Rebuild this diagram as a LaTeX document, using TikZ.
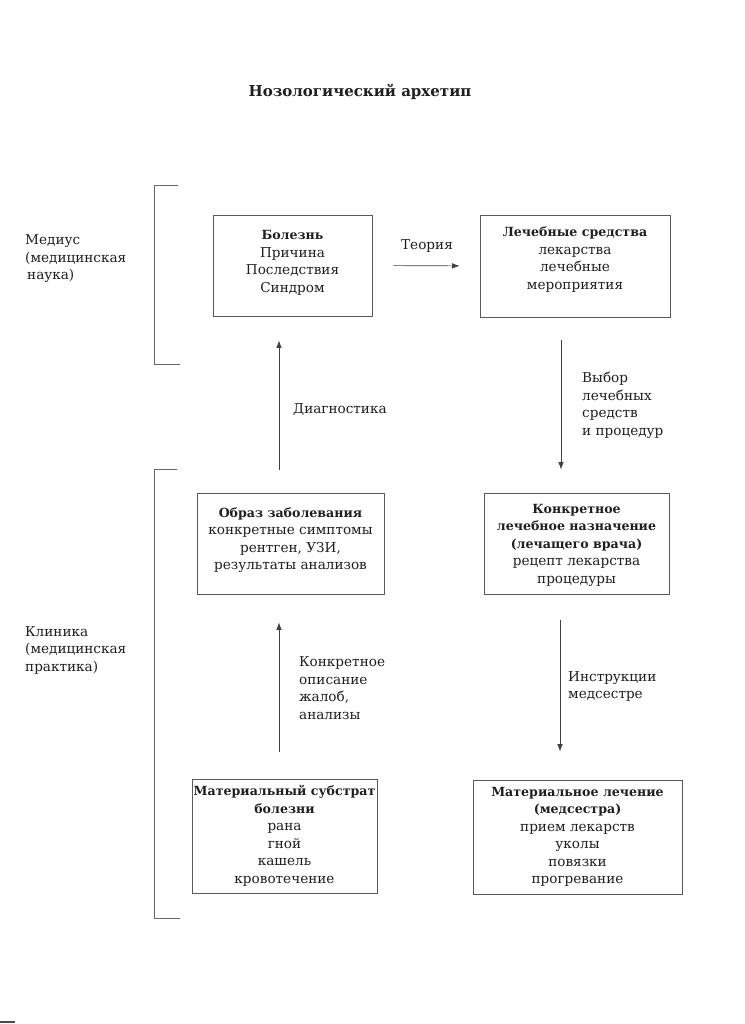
\documentclass[tikz,border=0pt]{standalone}
\usepackage{fontspec}
\setmainfont{DejaVu Serif}
\usetikzlibrary{arrows.meta}
\newcommand\bt[1]{{\fontsize{12.6}{17.5}\selectfont\bfseries #1}}
\begin{document}
\begin{tikzpicture}[x=1pt,y=-1pt,
  txt/.style={font=\fontsize{13.6}{17.5}\selectfont, text=black!88, inner sep=0pt},
  box/.style={txt, draw=black!65, line width=0.8pt, align=center},
  lbl/.style={txt, align=left, anchor=west},
  arr/.style={draw=black!75, line width=0.7pt, -{Latex[length=7.5pt,width=5.5pt]}},
  bracket/.style={draw=black!60, line width=0.8pt}]
\useasboundingbox[fill=white] (0,0) rectangle (744,1024);
\node[txt, font=\fontsize{15}{18}\selectfont\bfseries] (title) at (360,92) {Нозологический архетип};
% brackets
\draw[bracket] (178,185) -- (154,185) -- (154,364) -- (180,364);
\draw[bracket] (177,469) -- (154,469) -- (154,918) -- (180,918);
% boxes
\node[box, minimum width=159pt, minimum height=101pt, text depth=8pt] (b1) at (292.5,265.5)
  {\bt{Болезнь}\\Причина\\Последствия\\Синдром};
\node[box, minimum width=190pt, minimum height=102pt, text depth=16pt] (b2) at (575,266)
  {\bt{Лечебные средства}\\лекарства\\лечебные\\мероприятия};
\node[box, minimum width=187pt, minimum height=101pt, text depth=10pt] (b3) at (290.5,543.5)
  {\bt{Образ заболевания}\\конкретные симптомы\\рентген, УЗИ,\\результаты анализов};
\node[box, minimum width=185pt, minimum height=101pt, text depth=0pt] (b4) at (576.5,543.5)
  {\bt{Конкретное}\\\bt{лечебное назначение}\\\bt{(лечащего врача)}\\рецепт лекарства\\процедуры};
\node[box, minimum width=185pt, minimum height=114pt] (b5) at (284.5,836)
  {\bt{Материальный субстрат}\\\bt{болезни}\\рана\\гной\\кашель\\кровотечение};
\node[box, minimum width=209pt, minimum height=114pt] (b6) at (577.5,837)
  {\bt{Материальное лечение}\\\bt{(медсестра)}\\прием лекарств\\уколы\\повязки\\прогревание};
% reference columns
\coordinate (cl) at (279,0);
\coordinate (cr) at (561,0);
\coordinate (cr2) at (560,0);
% arrows
\draw[arr, shorten <=21pt, shorten >=20pt] (b1.east) -- (b2.west);
\draw[arr, shorten <=23pt, shorten >=24pt] (b3.north -| cl) -- (b1.south -| cl);
\draw[arr, shorten <=23pt, shorten >=23pt] (b2.south -| cr) -- (b4.north -| cr);
\draw[arr, shorten <=27pt, shorten >=28pt] (b5.north -| cl) -- (b3.south -| cl);
\draw[arr, shorten <=26pt, shorten >=28pt] (b4.south -| cr2) -- (b6.north -| cr2);
% labels
\node[txt] (teoria) at (427,246) {Теория};
\node[lbl] (diag) at (293,410) {Диагностика};
\node[lbl] (vybor) at (582,405) {Выбор\\лечебных\\средств\\и процедур};
\node[lbl] (opis) at (299,688) {Конкретное\\описание\\жалоб,\\анализы};
\node[lbl] (instr) at (568,686.5) {Инструкции\\медсестре};
\node[lbl] (medius) at (25,259) {Медиус\\(медицинская\\\hspace*{2pt}наука)};
\node[lbl] (klin) at (25,650) {Клиника\\(медицинская\\практика)};
% page mark
\draw[draw=black!70, line width=2pt] (0,1022) -- (15,1022);
\end{tikzpicture}
\end{document}
